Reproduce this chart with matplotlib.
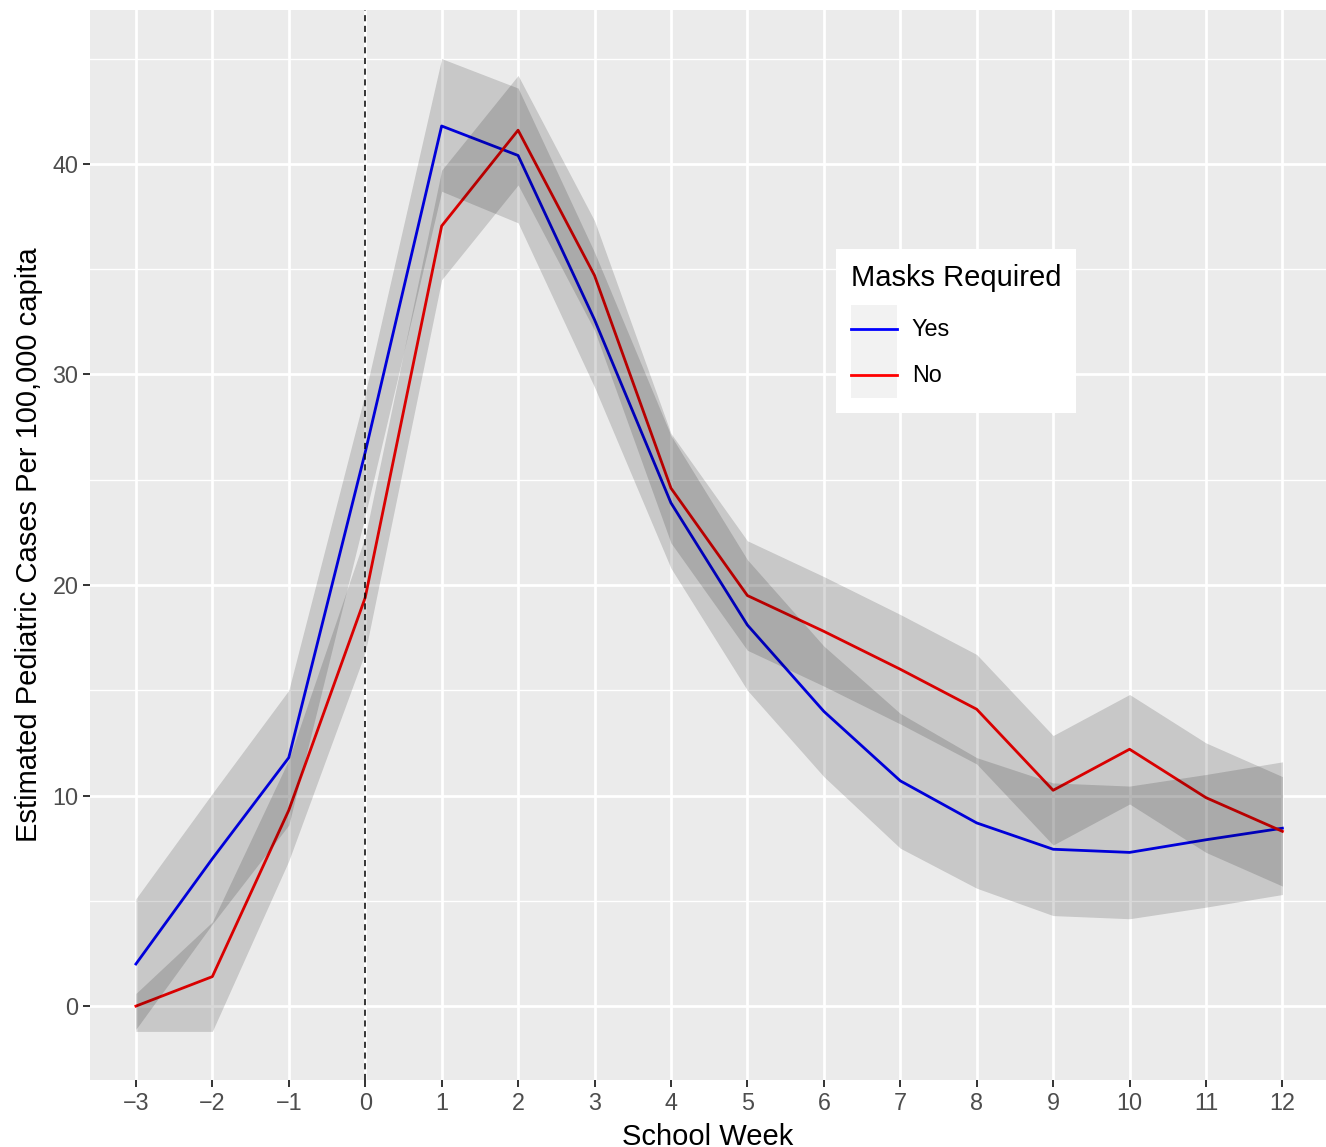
import numpy as np
import matplotlib
matplotlib.use("Agg")
import matplotlib.pyplot as plt
from matplotlib.patches import Rectangle
from matplotlib.legend_handler import HandlerLine2D

plt.rcParams['font.family'] = ['Liberation Sans', 'DejaVu Sans']

# data
weeks = [-3, -2, -1, 0, 1, 2, 3, 4, 5, 6, 7, 8, 9, 10, 11, 12]

yes_cases = [2.0, 7.0, 11.8, 26.3, 41.8, 40.4, 32.6, 23.9, 18.1, 14.0, 10.7, 8.7, 7.45, 7.3, 7.9, 8.45]
yes_lower = [-1.1, 3.9, 8.6, 23.3, 38.7, 37.2, 29.4, 20.8, 15.0, 10.9, 7.5, 5.6, 4.3, 4.15, 4.7, 5.3]
yes_upper = [5.1, 10.1, 15.0, 29.1, 45.0, 43.6, 35.8, 27.1, 21.2, 17.1, 13.9, 11.8, 10.6, 10.45, 11.0, 11.6]

no_cases = [0.0, 1.4, 9.3, 19.4, 37.05, 41.6, 34.7, 24.6, 19.5, 17.8, 16.0, 14.1, 10.25, 12.2, 9.9, 8.3]
no_lower = [-1.2, -1.2, 6.9, 16.8, 34.5, 39.0, 32.1, 22.0, 16.9, 15.2, 13.4, 11.5, 7.65, 9.6, 7.3, 5.7]
no_upper = [0.6, 4.0, 11.7, 22.3, 39.7, 44.2, 37.3, 27.2, 22.1, 20.4, 18.6, 16.7, 12.85, 14.8, 12.5, 10.9]

y_ticks = [0, 10, 20, 30, 40]
y_minor = [5, 15, 25, 35, 45]


class KeyHandler(HandlerLine2D):
    # ggplot style legend key: grey square behind the line
    def create_artists(self, legend, orig_handle, xdescent, ydescent,
                       width, height, fontsize, trans):
        arts = super().create_artists(legend, orig_handle, xdescent, ydescent,
                                      width, height, fontsize, trans)
        yc = height / 2 - ydescent
        for a in arts:
            a.set_ydata([yc] * len(a.get_xdata()))
        bg = Rectangle((-xdescent, -ydescent - 0.5), width, height + 1,
                       facecolor='#F2F2F2', edgecolor='none', transform=trans)
        return [bg] + arts


fig = plt.figure(figsize=(13.26, 11.47), dpi=100)
ax = fig.add_axes([0.0679, 0.0584, 0.9321, 0.9329])
ax.set_facecolor('#EBEBEB')

l_yes, = ax.plot(weeks, yes_cases, color='#0000FF', lw=2.0, zorder=2, label='Yes')
l_no, = ax.plot(weeks, no_cases, color='#FF0000', lw=2.0, zorder=2, label='No')
ax.fill_between(weeks, yes_lower, yes_upper, color='black', alpha=0.15, lw=0, zorder=3)
ax.fill_between(weeks, no_lower, no_upper, color='black', alpha=0.15, lw=0, zorder=3)

ax.axvline(0, color='black', lw=1.1, ls=(0, (4, 3)), zorder=4)

ax.set_xlim(-3.6, 12.57)
ax.set_ylim(-3.51, 47.31)
ax.set_xticks(weeks)
ax.set_yticks(y_ticks)
ax.set_yticks(y_minor, minor=True)
ax.grid(which='major', color='white', lw=2.0, zorder=0)
ax.grid(which='minor', axis='y', color='white', lw=1.0, zorder=0)
ax.set_axisbelow(True)
for s in ax.spines.values():
    s.set_visible(False)
ax.tick_params(which='major', length=5.3, width=1.4, color='#333333',
               labelsize=16.8, labelcolor='#4D4D4D', pad=3)
ax.tick_params(which='minor', length=0)

ax.set_xlabel('School Week', fontsize=21, color='black', labelpad=6)
ax.set_ylabel('Estimated Pediatric Cases Per 100,000 capita', fontsize=21,
              color='black', labelpad=7)

leg = ax.legend(handles=[l_yes, l_no], title='Masks Required',
                loc='upper left', bbox_to_anchor=(0.6305, 0.7829),
                bbox_transform=fig.transFigure, borderaxespad=0,
                fontsize=16.8, title_fontsize=21, frameon=True, fancybox=False,
                facecolor='white', edgecolor='none', framealpha=1,
                handlelength=1.97, handleheight=2.65, labelspacing=0,
                handletextpad=0.64, borderpad=0.64, alignment='left',
                handler_map={matplotlib.lines.Line2D: KeyHandler()})
leg._legend_box.sep = 10  # gap between title and keys
leg.set_zorder(10)

fig.savefig('out.png', dpi=100)
